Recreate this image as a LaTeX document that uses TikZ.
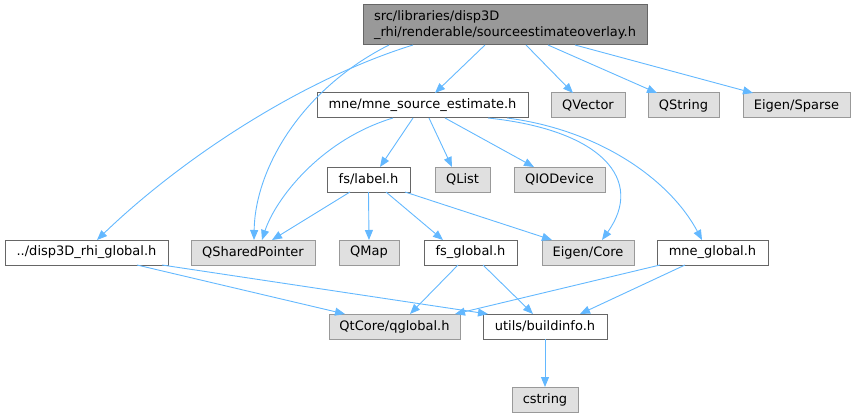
\documentclass[tikz,border=0pt]{standalone}
\usepackage{fontspec}
\setmainfont{DejaVu Sans}
\usetikzlibrary{arrows.meta,calc}
\definecolor{edgeblue}{HTML}{63B8FF}
\definecolor{gfill}{HTML}{E0E0E0}
\definecolor{gline}{HTML}{999999}
\definecolor{wline}{HTML}{666666}
\definecolor{topfill}{HTML}{999999}
\tikzset{
  box/.style={rectangle, inner sep=0pt, outer sep=0pt, minimum height=25pt, line width=1pt,
    font=\fontsize{13}{15.5}\selectfont, text=black},
  wnode/.style={box, draw=wline, fill=white},
  gnode/.style={box, draw=gline, fill=gfill},
  topnode/.style={box, draw=wline, fill=topfill, minimum height=40pt, minimum width=284pt,
    text width=262pt, align=left},
  edge/.style={draw=edgeblue, line width=0.9pt, -{Triangle[length=10pt,width=8pt,fill=edgeblue]}}
}
\begin{document}
\begin{tikzpicture}[x=1pt,y=-1pt]
\useasboundingbox (0,0) rectangle (856,417);
% nodes
\node[topnode] (top) at (505,25) {src/libraries/disp3D\\\_rhi/renderable/sourceestimateoverlay.h};
\node[wnode, minimum width=211pt] (mse) at (422.5,105.5) {mne/mne\_source\_estimate.h};
\node[gnode, minimum width=74pt] (qvector) at (588,105.5) {QVector};
\node[gnode, minimum width=71pt] (qstring) at (683.5,105.5) {QString};
\node[gnode, minimum width=107pt] (esparse) at (796.5,105.5) {Eigen/Sparse};
\node[wnode, minimum width=83pt] (label) at (368.5,179.5) {fs/label.h};
\node[gnode, minimum width=55pt] (qlist) at (462.5,179.5) {QList};
\node[gnode, minimum width=91pt] (qiodev) at (559.5,179.5) {QIODevice};
\node[wnode, minimum width=163pt] (disp) at (86.5,252.5) {../disp3D\_rhi\_global.h};
\node[gnode, minimum width=124pt] (qsp) at (253,252.5) {QSharedPointer};
\node[gnode, minimum width=60pt] (qmap) at (369,252.5) {QMap};
\node[wnode, minimum width=93pt] (fsglobal) at (470.5,252.5) {fs\_global.h};
\node[gnode, minimum width=92pt] (ecore) at (588,252.5) {Eigen/Core};
\node[wnode, minimum width=111pt] (mneglobal) at (712.5,252.5) {mne\_global.h};
\node[gnode, minimum width=131pt] (qglobal) at (394.5,326.5) {QtCore/qglobal.h};
\node[wnode, minimum width=124pt] (buildinfo) at (545,326.5) {utils/buildinfo.h};
\node[gnode, minimum width=66pt] (cstring) at (545,399.5) {cstring};
% edges from top
\draw[edge] ([xshift=-20pt]top.south) -- ([xshift=12.5pt]mse.north);
\draw[edge] ([xshift=21pt]top.south) -- ([xshift=-15pt]qvector.north);
\draw[edge] ([xshift=43pt]top.south) -- ([xshift=-26.5pt]qstring.north);
\draw[edge] ([xshift=70pt]top.south) -- ([xshift=-43.5pt]esparse.north);
\draw[edge] ([xshift=-92pt]top.south) .. controls ($([xshift=-92pt]top.south)+(-113,35)$) and ($([xshift=10.5pt]disp.north)+(83,-80)$) .. ([xshift=10.5pt]disp.north);
\draw[edge] ([xshift=-116pt]top.south) .. controls ($([xshift=-116pt]top.south)+(-89,45)$) and ($([xshift=1pt]qsp.north)+(1,-70)$) .. ([xshift=1pt]qsp.north);
% edges from mse
\draw[edge] ([xshift=-29.5pt]mse.south) .. controls ($([xshift=-29.5pt]mse.south)+(-73,22)$) and ($([xshift=9pt]qsp.north)+(13,-40)$) .. ([xshift=9pt]qsp.north);
\draw[edge] ([xshift=-9.5pt]mse.south) -- ([xshift=11.5pt]label.north);
\draw[edge] ([xshift=6.5pt]mse.south) -- ([xshift=-10.5pt]qlist.north);
\draw[edge] ([xshift=22.5pt]mse.south) -- ([xshift=-25.5pt]qiodev.north);
\draw[edge] ([xshift=65.5pt]mse.south) .. controls ($([xshift=65.5pt]mse.south)+(114,12)$) and ($([xshift=14pt]ecore.north)+(43,-60)$) .. ([xshift=14pt]ecore.north);
\draw[edge] ([xshift=84.5pt]mse.south) .. controls ($([xshift=84.5pt]mse.south)+(93,12)$) and ($([xshift=-10.5pt]mneglobal.north)+(-32,-60)$) .. ([xshift=-10.5pt]mneglobal.north);
% edges from label
\draw[edge] ([xshift=-18.5pt]label.south) -- ([xshift=19pt]qsp.north);
\draw[edge] (label.south) -- (qmap.north);
\draw[edge] ([xshift=17.5pt]label.south) -- ([xshift=-27.5pt]fsglobal.north);
\draw[edge] ([xshift=36.5pt]label.south) -- ([xshift=-36pt]ecore.north);
% lower edges
\draw[edge] ([xshift=50.5pt]disp.south) -- ([xshift=-49.5pt]qglobal.north);
\draw[edge] ([xshift=75.5pt]disp.south) -- ([xshift=5pt]buildinfo.north west);
\draw[edge] ([xshift=-12.5pt]fsglobal.south) -- ([xshift=15.5pt]qglobal.north);
\draw[edge] ([xshift=12.5pt]fsglobal.south) -- ([xshift=-12pt]buildinfo.north);
\draw[edge] ([xshift=-52.5pt]mneglobal.south) -- ([xshift=60.5pt]qglobal.north);
\draw[edge] ([xshift=-27.5pt]mneglobal.south) -- ([xshift=35pt]buildinfo.north);
\draw[edge] (buildinfo.south) -- (cstring.north);
\end{tikzpicture}
\end{document}
